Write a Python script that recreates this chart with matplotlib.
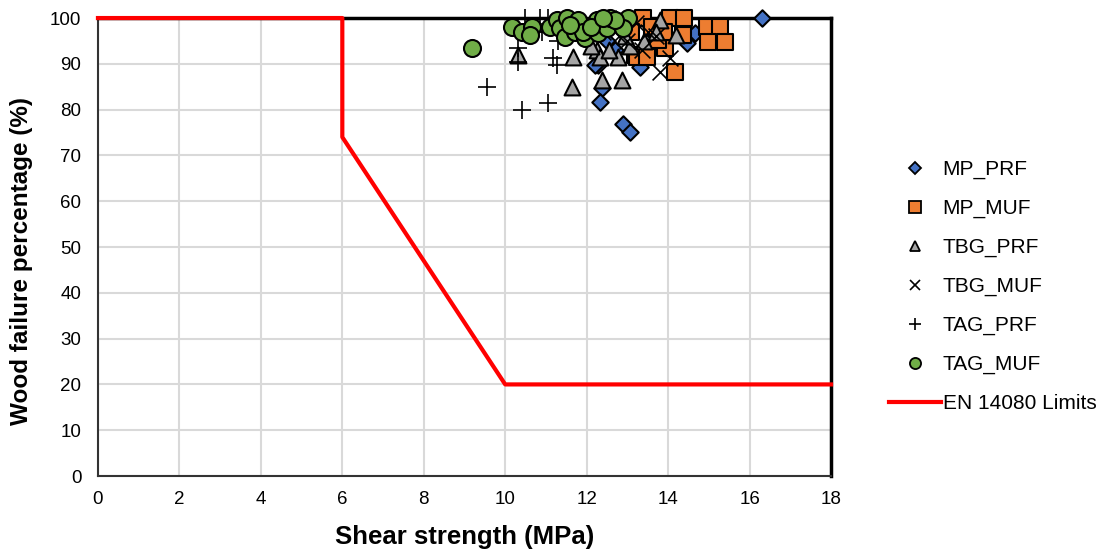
import matplotlib
matplotlib.use("Agg")
import matplotlib.pyplot as plt
from matplotlib.lines import Line2D

plt.rcParams['font.family'] = ['Liberation Sans', 'DejaVu Sans']

# shear strength (MPa), wood failure (%)
mp_prf_x = [16.3, 14.66, 14.46, 13.3, 12.28, 12.38, 12.33, 12.9, 13.06, 12.2, 12.5, 13.0, 13.6, 12.7]
mp_prf_y = [100, 96.7, 94.5, 89.3, 89.7, 84.7, 81.7, 76.9, 75.1, 89.7, 95, 96, 97, 93]

mp_muf_x = [14.05, 14.4, 14.95, 15.28, 14.98, 15.4, 14.17, 13.43, 13.19, 13.92, 13.75,
            14.37, 13.38, 13.24, 13.48, 13.6, 13.1, 13.9]
mp_muf_y = [100, 100, 98, 98, 94.8, 94.8, 88.2, 92, 92, 93.4, 95.2,
            96.3, 100, 91.5, 91.5, 98, 97, 97]

tbg_prf_x = [10.31, 11.67, 11.64, 12.38, 12.87, 12.25, 12.33, 12.77, 13.06, 14.2, 13.8,
             12.55, 13.4, 12.1, 13.7, 12.95]
tbg_prf_y = [92, 91.5, 85, 86.5, 86.5, 93, 91.5, 91.5, 94, 96.3, 99.5,
             93, 95, 94, 97, 96]

tbg_muf_x = [13.8, 14.05, 12.8, 13.5, 13.2, 12.6, 13.0, 13.35, 12.9, 13.7, 12.4]
tbg_muf_y = [88.2, 91.3, 96, 97, 99, 98, 95, 93, 100, 96, 97]

tag_prf_x = [9.55, 10.41, 11.05, 11.27, 10.31, 10.31, 11.17, 10.49, 10.85, 11.05, 11.3, 10.9]
tag_prf_y = [85, 80, 81.4, 89.7, 93.4, 90.4, 91.3, 100, 100, 100, 95, 97]

tag_muf_x = [9.18, 10.17, 10.41, 10.66, 10.61, 11.1, 11.27, 11.35, 11.47, 11.52, 11.79,
             11.71, 11.96, 11.91, 12.25, 12.28, 12.5, 12.82, 13.02, 12.57, 12.1, 12.9,
             12.7, 11.6, 12.4]
tag_muf_y = [93.4, 98, 97, 98, 96.3, 98, 99.6, 97.8, 95.9, 100, 99.6,
             97, 95.6, 97, 99.6, 96.7, 97.8, 98.9, 100, 100, 98, 97.8,
             99.5, 98.5, 100]

limit_x = [0, 6, 6, 10, 18]
limit_y = [100, 100, 74, 20, 20]

fig = plt.figure(figsize=(11.02, 5.5), dpi=100)
ax = fig.add_axes([0.0889, 0.1345, 0.6652, 0.8327])

ax.set_xlim(0, 18)
ax.set_ylim(0, 100)
ax.set_xticks(range(0, 19, 2))
ax.set_yticks(range(0, 101, 10))
ax.grid(True, color='#d9d9d9', linewidth=1.5)
ax.set_axisbelow(True)
for s in ['top', 'right']:
    ax.spines[s].set_linewidth(2.5)
    ax.spines[s].set_color('black')
for s in ['left', 'bottom']:
    ax.spines[s].set_linewidth(1.5)
    ax.spines[s].set_color('#333333')

ax.tick_params(labelsize=13.5, length=0)
ax.tick_params(axis='y', pad=12)
ax.tick_params(axis='x', pad=11)

ec = 'black'
ax.scatter(mp_prf_x, mp_prf_y, marker='D', s=70, c='#4472c4', edgecolors=ec, linewidths=1.5, zorder=3, clip_on=False)
ax.scatter(mp_muf_x, mp_muf_y, marker='s', s=130, c='#ed7d31', edgecolors=ec, linewidths=1.5, zorder=3, clip_on=False)
ax.scatter(tbg_prf_x, tbg_prf_y, marker='^', s=130, c='#a5a5a5', edgecolors=ec, linewidths=1.5, zorder=3, clip_on=False)
ax.scatter(tbg_muf_x, tbg_muf_y, marker='x', s=130, c='black', linewidths=1.2, zorder=3, clip_on=False)
ax.scatter(tag_prf_x, tag_prf_y, marker='+', s=180, c='black', linewidths=1.2, zorder=3, clip_on=False)
ax.scatter(tag_muf_x, tag_muf_y, marker='o', s=150, c='#70ad47', edgecolors=ec, linewidths=1.5, zorder=3, clip_on=False)
ax.plot(limit_x, limit_y, color='#ff0000', linewidth=3, zorder=4, clip_on=False)

ax.set_xlabel('Shear strength (MPa)', fontsize=18.5, fontweight='bold', labelpad=12)
ax.set_ylabel('Wood failure percentage (%)', fontsize=17.5, fontweight='bold')
ax.yaxis.set_label_coords(-0.088, 0.47)

handles = [
    Line2D([], [], linestyle='none', marker='D', markersize=6, markerfacecolor='#4472c4', markeredgecolor=ec, markeredgewidth=1.3),
    Line2D([], [], linestyle='none', marker='s', markersize=8, markerfacecolor='#ed7d31', markeredgecolor=ec, markeredgewidth=1.3),
    Line2D([], [], linestyle='none', marker='^', markersize=7, markerfacecolor='#a5a5a5', markeredgecolor=ec, markeredgewidth=1.3),
    Line2D([], [], linestyle='none', marker='x', markersize=7, color='black', markeredgewidth=1.2),
    Line2D([], [], linestyle='none', marker='+', markersize=8, color='black', markeredgewidth=1.2),
    Line2D([], [], linestyle='none', marker='o', markersize=8, markerfacecolor='#70ad47', markeredgecolor=ec, markeredgewidth=1.3),
    Line2D([], [], color='#ff0000', linewidth=3),
]
labels = ['MP_PRF', 'MP_MUF', 'TBG_PRF', 'TBG_MUF', 'TAG_PRF', 'TAG_MUF', 'EN 14080 Limits']
fig.legend(handles, labels, loc='center left', bbox_to_anchor=(0.7995, 0.479), frameon=False,
           fontsize=15, labelspacing=0.95, handlelength=2.5, handletextpad=0.05, borderaxespad=0)

fig.savefig('out.png', dpi=100)
